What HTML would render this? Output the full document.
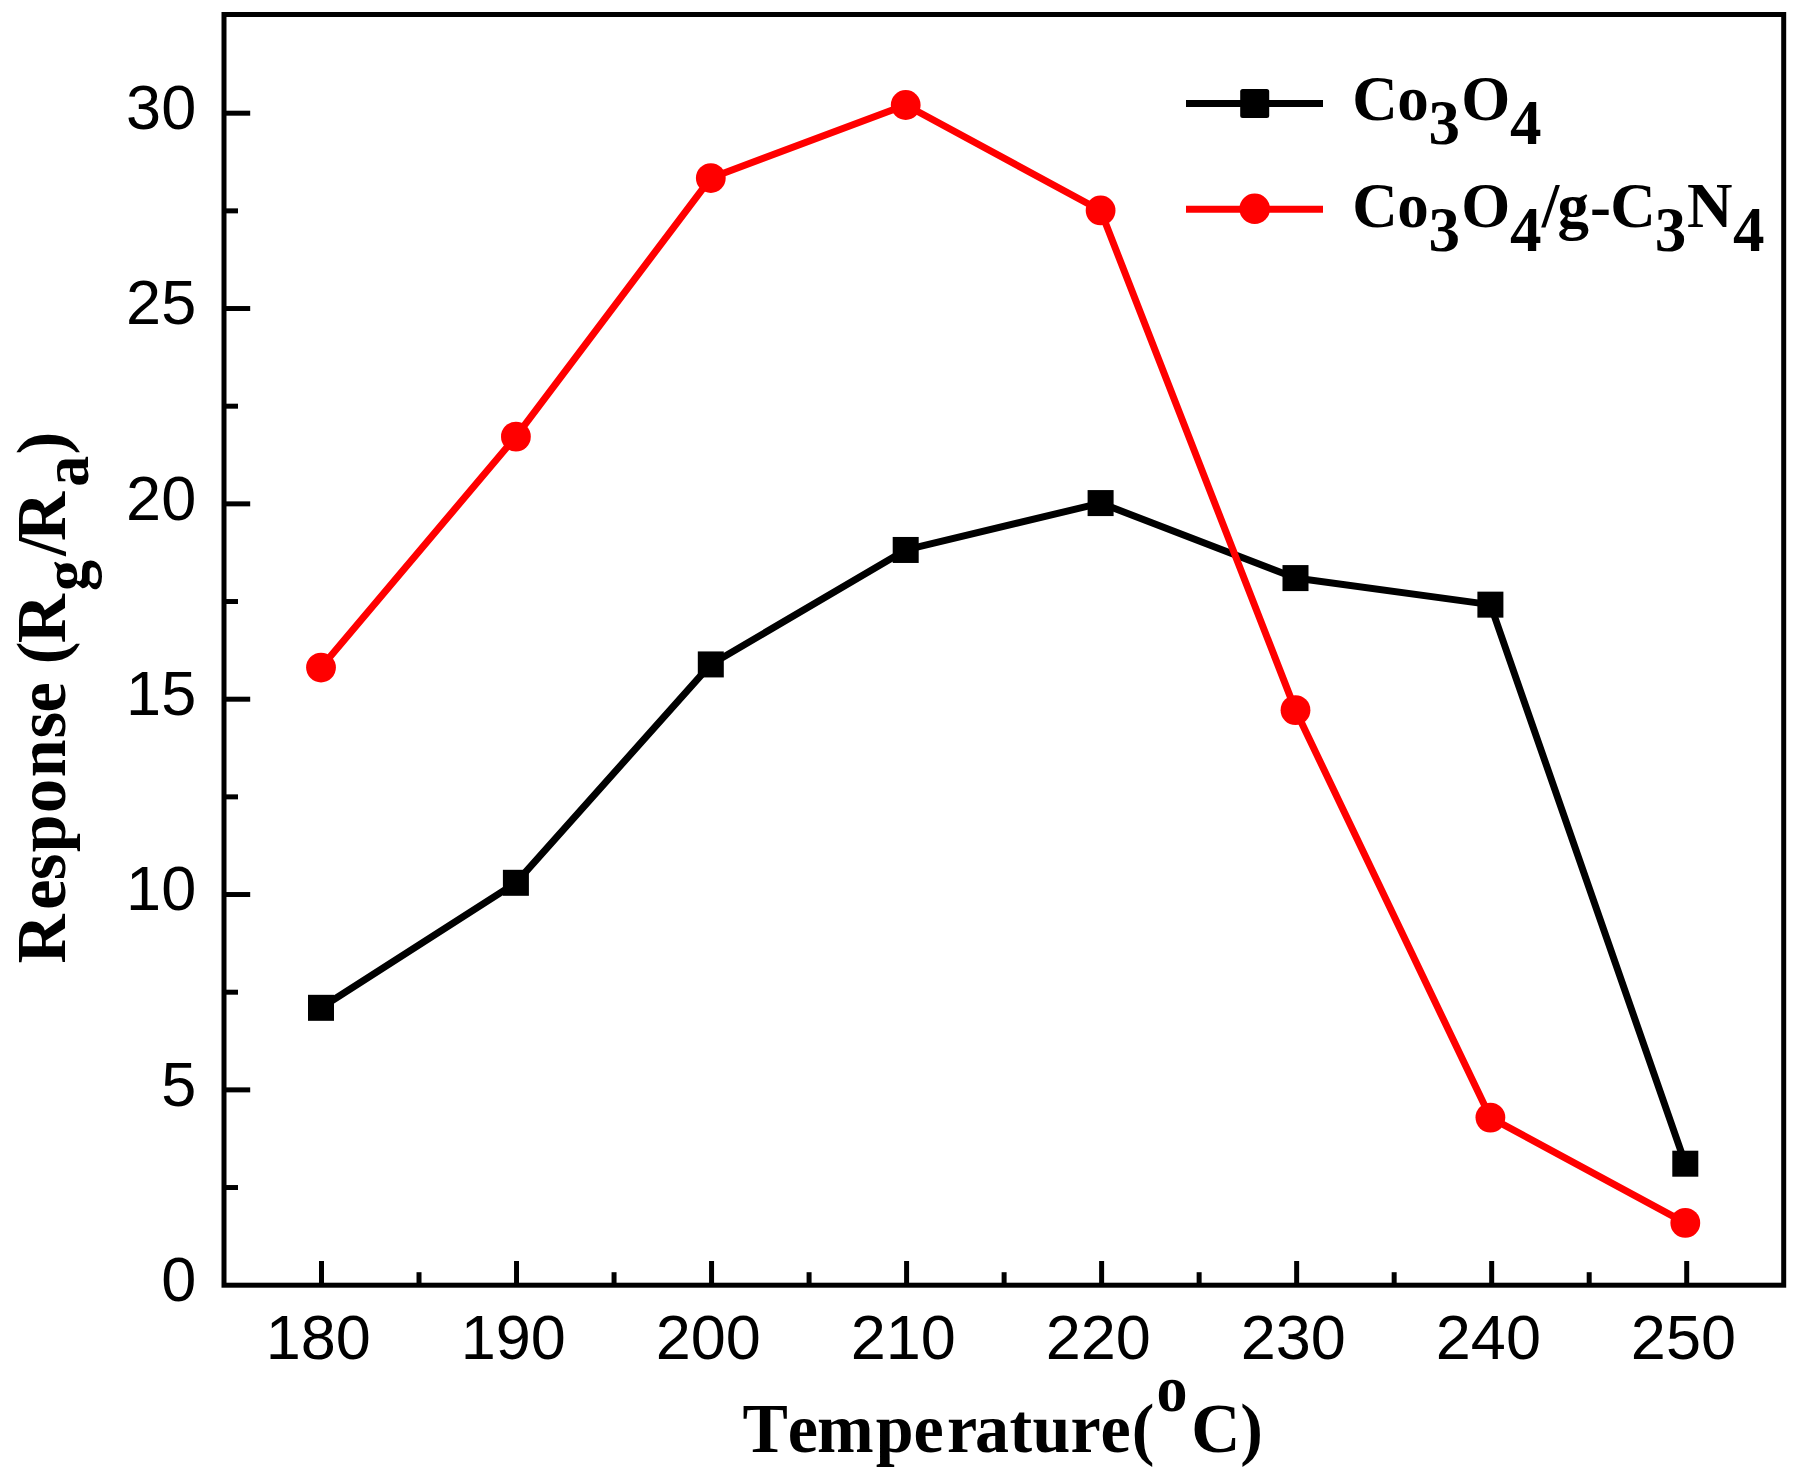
<!DOCTYPE html>
<html lang="en"><head><meta charset="utf-8"><title>Response vs Temperature</title>
<style>
html,body{margin:0;padding:0;background:#fff;}
body{width:1804px;height:1483px;overflow:hidden;}
svg{display:block;}
text{font-kerning:none;}
.tk{font-family:"Liberation Sans",Arial,sans-serif;font-size:63px;fill:#000;}
.lb{font-family:"Liberation Serif","Times New Roman",serif;font-weight:bold;font-size:68px;fill:#000;}
.lg{font-family:"Liberation Serif","Times New Roman",serif;font-weight:bold;font-size:63px;fill:#000;}
</style></head><body>
<svg width="1804" height="1483" viewBox="0 0 1804 1483">
<rect x="0" y="0" width="1804" height="1483" fill="#fff"/>
<rect x="224.00" y="14.50" width="1559.70" height="1270.70" fill="none" stroke="#000" stroke-width="5.0"/>
<g stroke="#000" stroke-width="5" stroke-linecap="butt">
<line x1="321.50" y1="1283.20" x2="321.50" y2="1261"/>
<line x1="516.53" y1="1283.20" x2="516.53" y2="1261"/>
<line x1="711.56" y1="1283.20" x2="711.56" y2="1261"/>
<line x1="906.59" y1="1283.20" x2="906.59" y2="1261"/>
<line x1="1101.62" y1="1283.20" x2="1101.62" y2="1261"/>
<line x1="1296.65" y1="1283.20" x2="1296.65" y2="1261"/>
<line x1="1491.68" y1="1283.20" x2="1491.68" y2="1261"/>
<line x1="1686.71" y1="1283.20" x2="1686.71" y2="1261"/>
<line x1="419.01" y1="1283.20" x2="419.01" y2="1272.2"/>
<line x1="614.05" y1="1283.20" x2="614.05" y2="1272.2"/>
<line x1="809.08" y1="1283.20" x2="809.08" y2="1272.2"/>
<line x1="1004.11" y1="1283.20" x2="1004.11" y2="1272.2"/>
<line x1="1199.13" y1="1283.20" x2="1199.13" y2="1272.2"/>
<line x1="1394.16" y1="1283.20" x2="1394.16" y2="1272.2"/>
<line x1="1589.19" y1="1283.20" x2="1589.19" y2="1272.2"/>
<line x1="226.00" y1="1089.87" x2="250.2" y2="1089.87"/>
<line x1="226.00" y1="894.53" x2="250.2" y2="894.53"/>
<line x1="226.00" y1="699.20" x2="250.2" y2="699.20"/>
<line x1="226.00" y1="503.86" x2="250.2" y2="503.86"/>
<line x1="226.00" y1="308.53" x2="250.2" y2="308.53"/>
<line x1="226.00" y1="113.19" x2="250.2" y2="113.19"/>
<line x1="226.00" y1="1187.53" x2="238" y2="1187.53"/>
<line x1="226.00" y1="992.20" x2="238" y2="992.20"/>
<line x1="226.00" y1="796.86" x2="238" y2="796.86"/>
<line x1="226.00" y1="601.53" x2="238" y2="601.53"/>
<line x1="226.00" y1="406.19" x2="238" y2="406.19"/>
<line x1="226.00" y1="210.86" x2="238" y2="210.86"/>
</g>
<text class="tk" x="318.20" y="1359.2" text-anchor="middle">180</text>
<text class="tk" x="513.23" y="1359.2" text-anchor="middle">190</text>
<text class="tk" x="708.26" y="1359.2" text-anchor="middle">200</text>
<text class="tk" x="903.29" y="1359.2" text-anchor="middle">210</text>
<text class="tk" x="1098.32" y="1359.2" text-anchor="middle">220</text>
<text class="tk" x="1293.35" y="1359.2" text-anchor="middle">230</text>
<text class="tk" x="1488.38" y="1359.2" text-anchor="middle">240</text>
<text class="tk" x="1683.41" y="1359.2" text-anchor="middle">250</text>
<text class="tk" x="196.2" y="1301.10" text-anchor="end">0</text>
<text class="tk" x="196.2" y="1105.77" text-anchor="end">5</text>
<text class="tk" x="196.2" y="910.43" text-anchor="end">10</text>
<text class="tk" x="196.2" y="715.10" text-anchor="end">15</text>
<text class="tk" x="196.2" y="519.76" text-anchor="end">20</text>
<text class="tk" x="196.2" y="324.43" text-anchor="end">25</text>
<text class="tk" x="196.2" y="129.09" text-anchor="end">30</text>
<polyline points="321.00,1007.82 515.90,882.81 710.80,664.43 905.70,549.96 1100.60,503.08 1295.50,578.09 1490.40,604.65 1685.30,1163.70" fill="none" stroke="#000" stroke-width="7.0" stroke-linejoin="round"/>
<rect x="308.00" y="994.82" width="26" height="26" fill="#000"/>
<rect x="502.90" y="869.81" width="26" height="26" fill="#000"/>
<rect x="697.80" y="651.43" width="26" height="26" fill="#000"/>
<rect x="892.70" y="536.96" width="26" height="26" fill="#000"/>
<rect x="1087.60" y="490.08" width="26" height="26" fill="#000"/>
<rect x="1282.50" y="565.09" width="26" height="26" fill="#000"/>
<rect x="1477.40" y="591.65" width="26" height="26" fill="#000"/>
<rect x="1672.30" y="1150.70" width="26" height="26" fill="#000"/>
<polyline points="321.00,667.55 515.90,436.66 710.80,178.04 905.70,104.99 1100.60,210.47 1295.50,710.13 1490.40,1117.60 1685.30,1222.89" fill="none" stroke="#ff0000" stroke-width="7.0" stroke-linejoin="round"/>
<circle cx="321.00" cy="667.55" r="14.9" fill="#ff0000"/>
<circle cx="515.90" cy="436.66" r="14.9" fill="#ff0000"/>
<circle cx="710.80" cy="178.04" r="14.9" fill="#ff0000"/>
<circle cx="905.70" cy="104.99" r="14.9" fill="#ff0000"/>
<circle cx="1100.60" cy="210.47" r="14.9" fill="#ff0000"/>
<circle cx="1295.50" cy="710.13" r="14.9" fill="#ff0000"/>
<circle cx="1490.40" cy="1117.60" r="14.9" fill="#ff0000"/>
<circle cx="1685.30" cy="1222.89" r="14.9" fill="#ff0000"/>
<line x1="1186" y1="103.5" x2="1323" y2="103.5" stroke="#000" stroke-width="7.0"/>
<rect x="1240.2" y="88.9" width="29" height="29" rx="2.5" fill="#000"/>
<line x1="1186" y1="209.2" x2="1323" y2="209.2" stroke="#ff0000" stroke-width="7.0"/>
<circle cx="1254.7" cy="208.8" r="15.3" fill="#ff0000"/>
<text class="lg" transform="translate(0,120.3)" y="0" xml:space="preserve"><tspan x="1352.3 1397.2">Co</tspan><tspan x="1428.4" dy="23.90">3</tspan><tspan x="1461.2" dy="-23.90">O</tspan><tspan x="1509.9" dy="23.90">4</tspan></text>
<text class="lg" transform="translate(0,226.6)" y="0" xml:space="preserve"><tspan x="1352.3 1397.2">Co</tspan><tspan x="1428.4" dy="23.90">3</tspan><tspan x="1461.2" dy="-23.90">O</tspan><tspan x="1509.9" dy="23.90">4</tspan><tspan x="1541.7 1557.5 1589.9 1610.2" dy="-23.90">/g-C</tspan><tspan x="1654.7" dy="23.90">3</tspan><tspan x="1687.1" dy="-23.90">N</tspan><tspan x="1733.0" dy="23.90">4</tspan></text>
<text class="lb" transform="translate(0,1451.5) scale(1,1.04)" y="0" xml:space="preserve"><tspan x="742.5 787.7 817.1 875.7 913.4 946.9 974.9 1009.6 1032.5 1070.6 1100.4 1131.7">Temperature(</tspan><tspan x="1156.6" dy="-39.13" font-size="62">o</tspan><tspan x="1191.3 1240.2" dy="39.13">C)</tspan></text>
<text class="lb" transform="translate(65.0,0) rotate(-90) scale(1,1.04)" y="0" xml:space="preserve"><tspan x="-963.5 -909.8 -880.0 -852.2 -813.1 -777.3 -738.3 -712.5 -680.3 -664.2 -643.3">Response (R</tspan><tspan x="-591.1" dy="22.50" font-size="62">g</tspan><tspan x="-555.8 -541.0" dy="-22.50">/R</tspan><tspan x="-486.8" dy="22.50" font-size="62">a</tspan><tspan x="-454.5" dy="-22.50">)</tspan></text>
</svg></body></html>
